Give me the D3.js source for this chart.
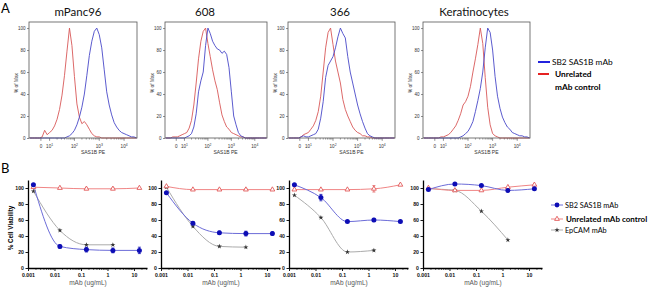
<!DOCTYPE html>
<html>
<head>
<meta charset="utf-8">
<script src="https://cdn.jsdelivr.net/npm/d3@7"></script>
<style>
  body { margin: 0; background: #fff; }
  svg { display: block; font-family: Lato, "Open Sans", sans-serif; }
  .ax text { font-family: "Liberation Sans", Arial, sans-serif; }
</style>
</head>
<body>
<svg id="fig" width="650" height="291"></svg>
<script>
// ---------- data: panel A (flow histograms, % of max) ----------
let cellLines = ['mPanc96', '608', '366', 'Keratinocytes']
// fluorescence grid in log10 units (biexponential display)
let logLevels = [0.2, 0.3, 0.4, 0.5, 0.6, 0.7, 0.8, 0.9, 1.0, 1.1, 1.2, 1.3, 1.4, 1.5, 1.6, 1.7, 1.8, 1.9, 2.0, 2.1, 2.2, 2.3,
                 2.4, 2.5, 2.6, 2.7, 2.8, 2.9, 3.0, 3.1, 3.2, 3.3, 3.4, 3.5, 3.6, 3.7, 3.8, 3.9, 4.0, 4.1, 4.2, 4.3, 4.4, 4.5]
let sb2Hist = [
  [0, 0, 0, 0, 0, 0, 0, 0, 0, 0, 0, 0, 0, 0, 0, 1, 2, 4, 7, 12, 19, 28, 40, 57, 75, 88, 97, 100, 94, 82, 62, 42, 30, 21, 14, 10, 7, 5, 4, 3, 2, 1, 1, 0],
  [0, 0, 0, 0, 0, 0, 0, 0, 0, 1, 2, 4, 10, 22, 42, 52, 60, 84, 100, 95, 88, 84, 81, 80, 77, 79, 76, 64, 42, 20, 12, 5, 2, 1, 0, 0, 0, 0, 0, 0, 0, 0, 0, 0],
  [0, 0, 0, 0, 0, 1, 2, 1, 1, 2, 3, 4, 8, 18, 33, 55, 66, 70, 74, 82, 92, 100, 95, 91, 74, 60, 50, 40, 30, 22, 15, 9, 4, 2, 1, 0, 0, 0, 0, 0, 0, 0, 0, 0],
  [0, 0, 0, 0, 0, 0, 0, 0, 0, 0, 0, 0, 0, 0, 0, 1, 2, 4, 6, 10, 15, 24, 34, 45, 60, 82, 100, 96, 80, 56, 38, 27, 19, 14, 10, 8, 5, 4, 3, 2, 2, 1, 1, 0]
]
let ctrlHist = [
  [0, 0, 0, 0, 0, 1, 7, 3, 5, 7, 11, 17, 26, 39, 57, 79, 100, 84, 56, 31, 19, 13, 15, 12, 8, 4, 2, 1, 1, 0, 0, 0, 0, 0, 0, 0, 0, 0, 0, 0, 0, 0, 0, 0],
  [0, 0, 0, 1, 1, 1, 2, 3, 4, 5, 9, 16, 30, 50, 72, 88, 97, 100, 86, 74, 62, 52, 44, 32, 21, 15, 10, 8, 5, 4, 3, 2, 1, 1, 0, 0, 0, 0, 0, 0, 0, 0, 0, 0],
  [0, 0, 0, 0, 0, 1, 3, 4, 5, 8, 11, 16, 24, 38, 60, 82, 96, 100, 85, 70, 60, 50, 35, 26, 20, 15, 10, 7, 5, 4, 2, 2, 1, 1, 0, 0, 0, 0, 0, 0, 0, 0, 0, 0],
  [0, 0, 0, 0, 0, 0, 0, 1, 1, 2, 3, 5, 8, 11, 16, 22, 30, 33, 38, 47, 60, 72, 85, 100, 86, 55, 28, 12, 4, 2, 1, 0, 0, 0, 0, 0, 0, 0, 0, 0, 0, 0, 0, 0]
]
let histTicks = [0, 20, 40, 60, 80, 100]
let decadeTicks = [1, 2, 3, 4]

// ---------- data: panel B (% cell viability) ----------
let doses = [0.0016, 0.016, 0.16, 1.6, 16]
let sb2Viab = [[104, 27, 23, 22, 22], [94, 56, 44, 43, 43], [104, 88, 58, 60, 58], [98, 105, 103, 97, 99]]
let sb2Err = [[0, 2, 3, 3, 4], [0, 2, 2, 3, 2], [0, 4, 1, 2, 1], [0, 0, 0, 0, 0]]
let ctrlViab = [[101, 100, 99, 99, 100], [102, 98, 98, 98, 98], [98, 98, 98, 99, 104], [100, 97, 97, 101, 104]]
let ctrlErr = [[0, 0, 1, 1, 0], [0, 0, 1, 1, 0], [0, 0, 0, 4, 0], [0, 0, 0, 0, 0]]
let epcamViab = [[96, 47, 29, 29], [101, 52, 27, 26], [91, 63, 20, 22], [99, 97, 71, 35]]
let doseTicks = [0.001, 0.01, 0.1, 1, 10]
let viabTicks = [0, 20, 40, 60, 80, 100]

const svg = d3.select('#fig')
const blueHist = '#4848c8', redHist = '#d85858'

// ---------------- panel A ----------------
svg.append('text').attr('x', 1).attr('y', 13).attr('font-size', 13).text('A')

let histTop = 22, histBottom = 138
let histBoxes = [[29, 137], [165, 267], [288, 395], [423, 530]]
let titleX = [78, 205, 340, 474]
let yHist = d3.scaleLinear().domain([0, 105.5]).range([histBottom, histTop])

cellLines.forEach((name, i) => {
  let [x0, x1] = histBoxes[i]
  let x = d3.scaleLinear().domain([0.17, 4.52]).range([x0, x1])
  let g = svg.append('g')

  g.append('text').attr('x', titleX[i]).attr('y', 16).attr('text-anchor', 'middle')
    .attr('font-size', 11.5).attr('fill', '#111').text(name)

  // y axis
  let ya = g.append('g').attr('class', 'ax').attr('transform', `translate(${x0},0)`)
    .call(d3.axisLeft(yHist).tickValues(histTicks).tickSize(2).tickPadding(1.5))
  ya.select('.domain').remove()
  ya.selectAll('line').attr('stroke', '#444').attr('stroke-width', 0.6)
  ya.selectAll('text').attr('font-size', 4.5).attr('fill', '#333')
  g.append('text').attr('class', 'ax')
    .attr('transform', `translate(${x0 - 11},${yHist(50)}) rotate(-90)`)
    .attr('text-anchor', 'middle').attr('font-size', 4.8).attr('fill', '#333')
    .style('font-family', '"Liberation Sans", Arial, sans-serif').text('% of Max')

  // x axis: minor ticks, major ticks and labels
  let minors = []
  decadeTicks.slice(0, 3).forEach(d => { for (let k = 2; k < 10; k++) minors.push(d + Math.log10(k)) })
  g.selectAll('.mn').data(minors).enter().append('line')
    .attr('x1', d => x(d)).attr('x2', d => x(d))
    .attr('y1', histBottom).attr('y2', histBottom + 1.6)
    .attr('stroke', '#444').attr('stroke-width', 0.5)
  g.selectAll('.mj').data([0.65].concat(decadeTicks)).enter().append('line')
    .attr('x1', d => x(d)).attr('x2', d => x(d))
    .attr('y1', histBottom).attr('y2', histBottom + 2.8)
    .attr('stroke', '#444').attr('stroke-width', 0.6)
  g.append('text').attr('class', 'ax').attr('x', x(0.65)).attr('y', histBottom + 9.5)
    .attr('text-anchor', 'middle').attr('font-size', 4.6).attr('fill', '#333')
    .style('font-family', '"Liberation Sans", Arial, sans-serif').text('0')
  decadeTicks.forEach(d => {
    let t = g.append('text').attr('x', x(d)).attr('y', histBottom + 9.5)
      .attr('text-anchor', 'middle').attr('font-size', 4.6).attr('fill', '#333')
      .style('font-family', '"Liberation Sans", Arial, sans-serif')
    t.append('tspan').text('10')
    t.append('tspan').attr('dy', -2).attr('font-size', 3.4).text(d)
  })
  g.append('text').attr('x', x(2.75)).attr('y', histBottom + 15.5)
    .attr('text-anchor', 'middle').attr('font-size', 5).attr('fill', '#333')
    .style('font-family', '"Liberation Sans", Arial, sans-serif').text('SAS1B PE')

  let line = d3.line().x((v, j) => x(logLevels[j])).y(v => yHist(v))
  g.append('path').datum(ctrlHist[i]).attr('d', line)
    .attr('fill', 'none').attr('stroke', redHist).attr('stroke-width', 0.9)
  g.append('path').datum(sb2Hist[i]).attr('d', line)
    .attr('fill', 'none').attr('stroke', blueHist).attr('stroke-width', 0.9)

  g.append('rect').attr('x', x0).attr('y', histTop)
    .attr('width', x1 - x0).attr('height', histBottom - histTop)
    .attr('fill', 'none').attr('stroke', '#555').attr('stroke-width', 0.8)
})

// legend A
let legA = svg.append('g')
legA.append('line').attr('x1', 538).attr('x2', 550).attr('y1', 62).attr('y2', 62)
  .attr('stroke', '#2323dd').attr('stroke-width', 2)
legA.append('text').attr('x', 552).attr('y', 65).attr('font-size', 8.3).text('SB2 SAS1B mAb')
legA.append('line').attr('x1', 538).attr('x2', 549).attr('y1', 74).attr('y2', 74)
  .attr('stroke', '#e52222').attr('stroke-width', 2)
legA.append('text').attr('x', 555).attr('y', 77).attr('font-size', 8.3).attr('font-weight', 'bold').text('Unrelated')
legA.append('text').attr('x', 555).attr('y', 90).attr('font-size', 8.3).attr('font-weight', 'bold').text('mAb control')

// ---------------- panel B ----------------
svg.append('text').attr('x', 1).attr('y', 173).attr('font-size', 13).text('B')

let bLefts = [28, 161, 289, 423], bWidth = 119, bTop = 180, bBottom = 268
let yViab = d3.scaleLinear().domain([0, 110]).range([bBottom, bTop])
let tickLabel = d => d >= 1 ? String(d) : d3.format('.3~f')(d)

let blueDot = '#0d0db5', blueLine = '#6c6cd8'
let redTri = '#e25a5a', redLine = '#f08585'
let grayPt = '#333', grayLine = '#ababab'

let starSym = d3.symbol(d3.symbolStar, 8)
let triSym = d3.symbol(d3.symbolTriangle, 10)

cellLines.forEach((name, i) => {
  let left = bLefts[i]
  let x = d3.scaleLog().domain([0.001, 31]).range([left, left + bWidth])
  let g = svg.append('g')

  // minor log ticks
  let minors = []
  doseTicks.forEach(d => { for (let k = 2; k < 10; k++) if (d * k < 31) minors.push(d * k) })
  g.selectAll('.mn').data(minors).enter().append('line')
    .attr('x1', d => x(d)).attr('x2', d => x(d))
    .attr('y1', bBottom).attr('y2', bBottom + 1.8)
    .attr('stroke', '#000').attr('stroke-width', 0.7)

  let xa = g.append('g').attr('class', 'ax').attr('transform', `translate(0,${bBottom})`)
    .call(d3.axisBottom(x).tickValues(doseTicks).tickFormat(tickLabel).tickSize(3).tickSizeOuter(0).tickPadding(2))
  xa.select('.domain').attr('stroke-width', 1.3)
  xa.selectAll('line').attr('stroke-width', 0.9)
  xa.selectAll('text').attr('font-size', 5.2).attr('font-weight', 'bold').attr('fill', '#111')

  let ya = g.append('g').attr('class', 'ax').attr('transform', `translate(${left},0)`)
    .call(d3.axisLeft(yViab).tickValues(viabTicks).tickSize(2.5).tickSizeOuter(0).tickPadding(1.5))
  ya.select('.domain').attr('stroke-width', 1.3)
  ya.selectAll('line').attr('stroke-width', 0.9)
  ya.selectAll('text').attr('font-size', 5.2).attr('font-weight', 'bold').attr('fill', '#111')

  g.append('text').attr('x', left + 60).attr('y', 285).attr('text-anchor', 'middle')
    .attr('font-size', 6.5).attr('fill', '#555')
    .style('font-family', '"Liberation Sans", Arial, sans-serif').text('mAb (ug/mL)')

  let curve = (vals) => d3.line().curve(d3.curveMonotoneX)
    .x((v, j) => x(doses[j])).y(v => yViab(v))(vals)

  g.append('path').attr('d', curve(epcamViab[i])).attr('fill', 'none').attr('stroke', grayLine).attr('stroke-width', 1)
  g.append('path').attr('d', curve(ctrlViab[i])).attr('fill', 'none').attr('stroke', redLine).attr('stroke-width', 1)
  g.append('path').attr('d', curve(sb2Viab[i])).attr('fill', 'none').attr('stroke', blueLine).attr('stroke-width', 1)

  // error bars
  let errs = []
  sb2Viab[i].forEach((v, j) => { if (sb2Err[i][j] > 0) errs.push({ x: doses[j], v: v, e: sb2Err[i][j], c: blueDot }) })
  ctrlViab[i].forEach((v, j) => { if (ctrlErr[i][j] > 0) errs.push({ x: doses[j], v: v, e: ctrlErr[i][j], c: redTri }) })
  errs.forEach(d => {
    g.append('line').attr('x1', x(d.x)).attr('x2', x(d.x))
      .attr('y1', yViab(d.v - d.e)).attr('y2', yViab(d.v + d.e)).attr('stroke', d.c).attr('stroke-width', 0.8)
    ;[d.v - d.e, d.v + d.e].forEach(t => g.append('line')
      .attr('x1', x(d.x) - 1.5).attr('x2', x(d.x) + 1.5).attr('y1', yViab(t)).attr('y2', yViab(t))
      .attr('stroke', d.c).attr('stroke-width', 0.8))
  })

  g.selectAll('.ep').data(epcamViab[i]).enter().append('path')
    .attr('d', starSym).attr('transform', (v, j) => `translate(${x(doses[j])},${yViab(v)})`)
    .attr('fill', grayPt)
  g.selectAll('.ct').data(ctrlViab[i]).enter().append('path')
    .attr('d', triSym).attr('transform', (v, j) => `translate(${x(doses[j])},${yViab(v)})`)
    .attr('fill', '#fff').attr('stroke', redTri).attr('stroke-width', 0.9)
  g.selectAll('.sb').data(sb2Viab[i]).enter().append('circle')
    .attr('cx', (v, j) => x(doses[j])).attr('cy', v => yViab(v)).attr('r', 2.5)
    .attr('fill', blueDot)
})

svg.append('text').attr('transform', `translate(13,${yViab(50)}) rotate(-90)`)
  .attr('text-anchor', 'middle').attr('font-size', 6.3).attr('font-weight', 'bold')
  .style('font-family', '"Liberation Sans", Arial, sans-serif').text('% Cell Viability')

// legend B
let legB = svg.append('g')
let legItems = [
  { y: 205, label: 'SB2 SAS1B mAb', bold: false, line: blueLine },
  { y: 219, label: 'Unrelated mAb control', bold: true, line: redLine },
  { y: 230, label: 'EpCAM mAb', bold: false, line: grayLine }
]
legItems.forEach((d, k) => {
  legB.append('line').attr('x1', 551).attr('x2', 563).attr('y1', d.y).attr('y2', d.y)
    .attr('stroke', d.line).attr('stroke-width', 1)
  if (k === 0) legB.append('circle').attr('cx', 557).attr('cy', d.y).attr('r', 2.4).attr('fill', blueDot)
  if (k === 1) legB.append('path').attr('d', triSym).attr('transform', `translate(557,${d.y})`)
    .attr('fill', '#fff').attr('stroke', redTri).attr('stroke-width', 0.9)
  if (k === 2) legB.append('path').attr('d', starSym).attr('transform', `translate(557,${d.y})`).attr('fill', grayPt)
  legB.append('text').attr('x', d.bold ? 566 : 565).attr('y', d.y + 2.6)
    .attr('font-size', d.bold ? 8 : 7.3).attr('font-weight', d.bold ? 'bold' : 'normal').text(d.label)
})
</script>
</body>
</html>
